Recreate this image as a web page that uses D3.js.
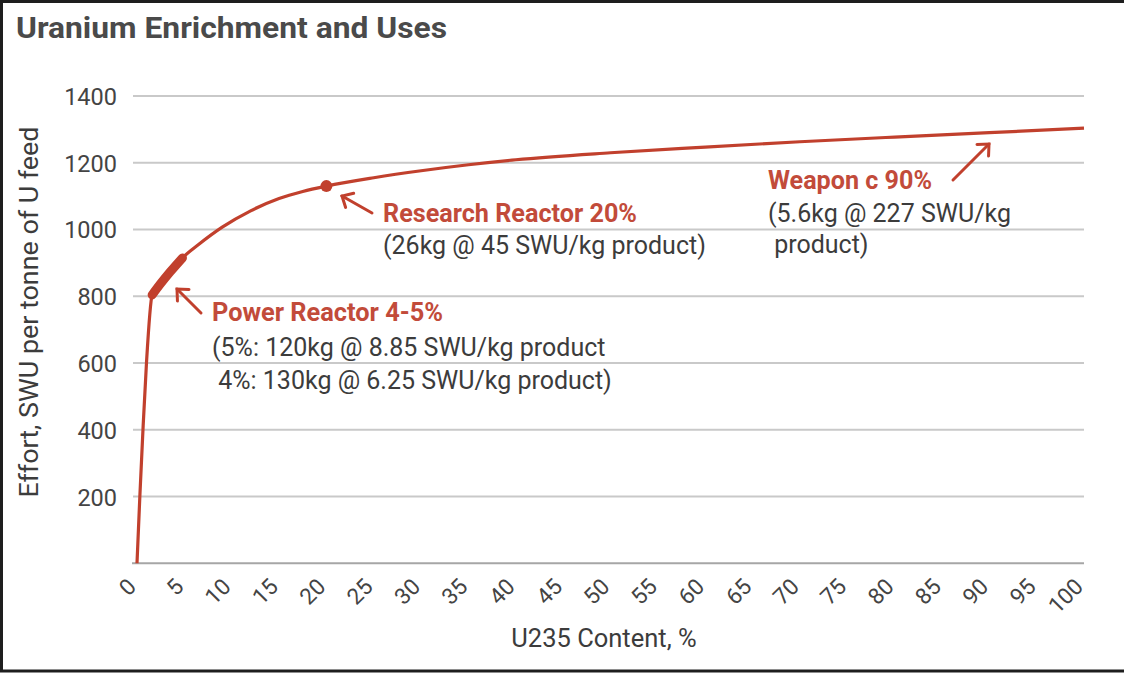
<!DOCTYPE html>
<html>
<head>
<meta charset="utf-8">
<script src="https://cdn.jsdelivr.net/npm/d3@7/dist/d3.min.js"></script>
<style>
  html, body { margin: 0; padding: 0; background: #fff; }
  svg { display: block; }
  text { font-family: Roboto, "Noto Sans", sans-serif; }
</style>
</head>
<body>
<div id="chart"></div>
<script>
// ---- data ----
const title = "Uranium Enrichment and Uses";
const xAxisTitle = "U235 Content, %";
const yAxisTitle = "Effort, SWU per tonne of U feed";

const contentPct = [0, 0.3, 0.63, 1.0, 1.6, 2.5, 3.5, 4.8, 6.5, 9, 12, 15, 17.5, 20, 25, 30, 35, 40, 50, 60, 70, 80, 90, 100];
const swuPerTonne = [0, 200, 400, 600, 804, 838, 873, 915, 955, 1007, 1056, 1093, 1114, 1130, 1155, 1176, 1194, 1209, 1230, 1247, 1263, 1277, 1290, 1304];

const xTicks = d3.range(0, 101, 5);
const yTicks = [200, 400, 600, 800, 1000, 1200, 1400];

const powerReactorRange = [1.6, 4.8];
const researchReactor = { x: 20, y: 1130 };

const powerLabel = "Power Reactor 4-5%";
const powerNote = ["(5%: 120kg @ 8.85 SWU/kg product", " 4%: 130kg @ 6.25 SWU/kg product)"];
const researchLabel = "Research Reactor 20%";
const researchNote = ["(26kg @ 45 SWU/kg product)"];
const weaponLabel = "Weapon c 90%";
const weaponNote = ["(5.6kg @ 227 SWU/kg", " product)"];

// ---- drawing ----
const W = 1124, H = 673;
const red = "#c1402d";
const redText = "#c24b3a";
const darkText = "#3c3c3c";

const svg = d3.select("#chart").append("svg")
  .attr("width", W).attr("height", H);

svg.append("rect").attr("width", W).attr("height", H).attr("fill", "#fff");

// frame (top, left, bottom)
svg.append("path")
  .attr("d", `M${W},1.5 H1.5 V671 H${W}`)
  .attr("fill", "none").attr("stroke", "#1e1e1e").attr("stroke-width", 3);

const x = d3.scaleLinear().domain([0, 100]).range([137, 1084]);
const y = d3.scaleLinear().domain([0, 1400]).range([563.3, 96]);

// title
svg.append("text")
  .attr("x", 16).attr("y", 38)
  .attr("font-size", 30).attr("font-weight", 700)
  .attr("fill", "#4a4a4a")
  .attr("textLength", 431).attr("lengthAdjust", "spacingAndGlyphs")
  .text(title);

// gridlines
svg.append("g").selectAll("line").data(yTicks).join("line")
  .attr("x1", 133).attr("x2", 1084)
  .attr("y1", d => y(d)).attr("y2", d => y(d))
  .attr("stroke", "#c9c9c9").attr("stroke-width", 2);

// baseline
svg.append("line")
  .attr("x1", 132).attr("x2", 1084)
  .attr("y1", y(0)).attr("y2", y(0))
  .attr("stroke", "#a6a6a6").attr("stroke-width", 2);

// y axis labels
const yAxis = d3.axisLeft(y).tickValues(yTicks).tickFormat(d3.format("d")).tickSize(0).tickPadding(0);
const gy = svg.append("g").attr("transform", "translate(117,0)").call(yAxis);
gy.select(".domain").remove();
gy.selectAll("text")
  .attr("font-size", 23.5).attr("fill", "#444")
  .attr("font-family", "Roboto, sans-serif")
  .attr("dy", "0.36em");

// x axis labels
const xAxis = d3.axisBottom(x).tickValues(xTicks).tickFormat(d3.format("d")).tickSize(0).tickPadding(0);
const gx = svg.append("g").attr("transform", "translate(0,588)").call(xAxis);
gx.select(".domain").remove();
gx.selectAll("text")
  .attr("font-size", 22.5).attr("fill", "#444")
  .attr("font-family", "Roboto, sans-serif")
  .attr("text-anchor", "end")
  .attr("y", 0).attr("dy", 0)
  .attr("transform", "rotate(-45)");

// axis titles
svg.append("text")
  .attr("x", 604).attr("y", 647)
  .attr("text-anchor", "middle")
  .attr("font-size", 25.5).attr("fill", darkText)
  .text(xAxisTitle);

svg.append("text")
  .attr("transform", "translate(38,312) rotate(-90)")
  .attr("text-anchor", "middle")
  .attr("font-size", 25.5).attr("fill", darkText)
  .attr("textLength", 371).attr("lengthAdjust", "spacingAndGlyphs")
  .text(yAxisTitle);

// curve
const pts = contentPct.map((c, i) => [c, swuPerTonne[i]]);
const line = d3.line().x(d => x(d[0])).y(d => y(d[1])).curve(d3.curveMonotoneX);

svg.append("path")
  .attr("d", line(pts))
  .attr("fill", "none").attr("stroke", red).attr("stroke-width", 3.2);

// power reactor thick segment
const powerPts = pts.filter(d => d[0] >= powerReactorRange[0] && d[0] <= powerReactorRange[1]);
svg.append("path")
  .attr("d", line(powerPts))
  .attr("fill", "none").attr("stroke", red)
  .attr("stroke-width", 9).attr("stroke-linecap", "round");

// research reactor dot
svg.append("circle")
  .attr("cx", x(researchReactor.x)).attr("cy", y(researchReactor.y))
  .attr("r", 6).attr("fill", red);

// arrows
function arrow(x1, y1, x2, y2) {
  const g = svg.append("g").attr("stroke", red).attr("stroke-width", 3)
    .attr("fill", "none").attr("stroke-linecap", "round");
  g.append("line").attr("x1", x1).attr("y1", y1).attr("x2", x2).attr("y2", y2);
  const ang = Math.atan2(y1 - y2, x1 - x2);
  const len = 12, spread = Math.PI / 4.2;
  g.append("path").attr("d",
    `M${x2 + len * Math.cos(ang + spread)},${y2 + len * Math.sin(ang + spread)} L${x2},${y2} L${x2 + len * Math.cos(ang - spread)},${y2 + len * Math.sin(ang - spread)}`)
    .attr("stroke-linejoin", "miter");
}
arrow(201, 313, 177, 289);
arrow(372, 213, 342, 196);
arrow(953, 180, 989, 144);

// annotation text
function label(xp, yp, str, len) {
  svg.append("text").attr("x", xp).attr("y", yp)
    .attr("font-size", 25.5).attr("font-weight", 700).attr("fill", redText)
    .attr("textLength", len).attr("lengthAdjust", "spacingAndGlyphs")
    .text(str);
}
function note(xp, yp, lines, lh) {
  const t = svg.append("text").attr("font-size", 25).attr("fill", darkText)
    .attr("xml:space", "preserve").style("white-space", "pre");
  lines.forEach((s, i) => {
    t.append("tspan").attr("x", xp).attr("y", yp + i * lh).text(s);
  });
}
label(212, 321, powerLabel, 231);
note(212, 356, powerNote, 33);
label(383, 222, researchLabel, 254);
note(383, 254, researchNote, 32);
label(768, 189, weaponLabel, 164);
note(768, 222, weaponNote, 31);
</script>
</body>
</html>
